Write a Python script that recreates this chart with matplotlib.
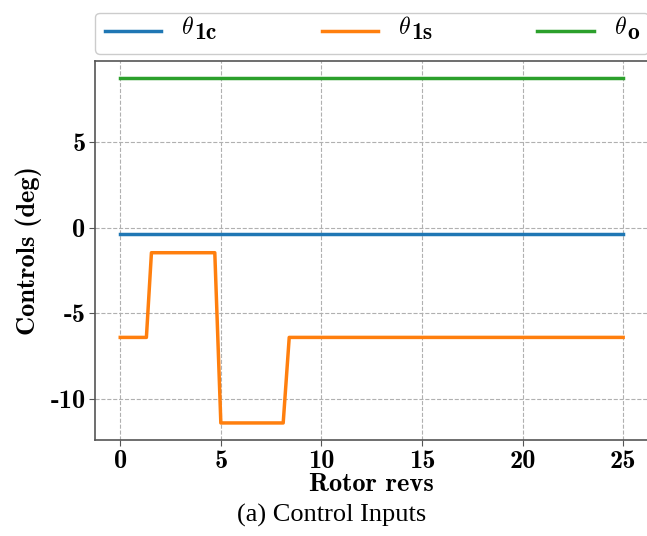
import matplotlib
matplotlib.use('Agg')
import matplotlib.pyplot as plt

# data
t_const = [0, 25]
theta_1c = [-0.35, -0.35]
theta_o = [8.76, 8.76]
t_1s = [0, 1.3, 1.55, 4.7, 5.0, 8.1, 8.4, 25]
theta_1s = [-6.4, -6.4, -1.45, -1.45, -11.4, -11.4, -6.4, -6.4]

x_ticks = [0, 5, 10, 15, 20, 25]
y_ticks = [-10, -5, 0, 5]
subscripts = ['1c', '1s', 'o']

plt.rcParams['mathtext.fontset'] = 'cm'
bold_cm = dict(family='cmb10', size=19)

fig = plt.figure(figsize=(6.47, 5.36), dpi=100)
ax = fig.add_axes([0.147, 0.179, 0.855, 0.707])

# legend labels hold the (full size, bold) subscripts; theta is put in front below
ax.plot(t_const, theta_1c, color='#1f77b4', lw=2.5, label=subscripts[0])
ax.plot(t_1s, theta_1s, color='#ff7f0e', lw=2.5, label=subscripts[1])
ax.plot(t_const, theta_o, color='#2ca02c', lw=2.5, label=subscripts[2])

ax.set_xlim(-1.25, 26.25)
ax.set_ylim(-12.4, 9.75)
ax.set_xticks(x_ticks)
ax.set_yticks(y_ticks)
ax.set_xticklabels([str(v) for v in x_ticks], **bold_cm)
ax.set_yticklabels([str(v) for v in y_ticks], **bold_cm)
ax.set_xlabel('Rotor revs', labelpad=0, **bold_cm)
ax.set_ylabel('Controls (deg)', labelpad=6, **bold_cm)

ax.grid(True, ls='--', color='#b0b0b0', lw=0.8)
for sp in ax.spines.values():
    sp.set_color('#555555')
    sp.set_linewidth(1.2)
ax.tick_params(color='#555555', length=4, pad=3)

leg = ax.legend(loc='lower left', bbox_to_anchor=(0, 1.02, 1, 0.12), mode='expand',
                ncol=3, prop=dict(family='cmb10', size=17), handlelength=2.4,
                handletextpad=1.4, borderaxespad=0, borderpad=0.4,
                edgecolor='#cccccc', framealpha=1)

for txt in leg.get_texts():
    ax.annotate(r'$\theta$', xy=(0, 0), xycoords=txt, xytext=(-9.5, 7.5),
                textcoords='offset points', va='baseline', ha='left',
                fontsize=17, zorder=10)

fig.text(0.512, 0.039, '(a) Control Inputs', ha='center', va='center',
         fontsize=19, family='Liberation Serif')

fig.savefig('out.png', dpi=100)
